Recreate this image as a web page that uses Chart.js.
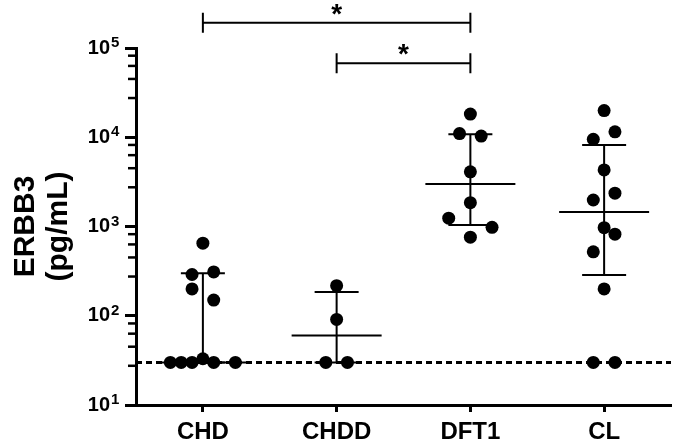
<!DOCTYPE html>
<html>
<head>
<meta charset="utf-8">
<script src="https://cdn.jsdelivr.net/npm/chart.js@4.4.1/dist/chart.umd.min.js"></script>
<style>
  html, body { margin: 0; padding: 0; background: #fff; }
  #wrap { width: 675px; height: 444px; }
</style>
</head>
<body>
<div id="wrap"><canvas id="erbbChart"></canvas></div>
<script>
const groups = ["CHD", "CHDD", "DFT1", "CL"];

// ERBB3 per animal (pg/mL)
const chdValues  = [650, 290, 310, 200, 150, 30, 30, 30, 33, 30, 30];
const chddValues = [217, 91, 30, 30];
const dft1Values = [18200, 11000, 10300, 4100, 1850, 1240, 980, 760];
const clValues   = [19900, 11500, 9500, 4300, 2360, 1980, 970, 820, 520, 200, 30, 30];

// median + interquartile range per group
const medians = [30, 60, 2990, 1450];
const lowerQ  = [30, 30, 1040, 286];
const upperQ  = [300, 185, 10800, 8180];

const detectionLimit = 30;

const yTickValues = [10, 100, 1000, 10000, 100000];
const yTickExponents = ["1", "2", "3", "4", "5"];
const minorSteps = [2.75, 4.5, 6.3, 8.2];

// significance brackets
const compFrom  = [0, 1];
const compTo    = [2, 2];
const compLevel = [192000, 67500];
const compLabel = ["*", "*"];

// jitter column of each dot (layout only)
const chdCols  = [0, -1, 1, -1, 1, -3, -2, -1, 0, 1, 3];
const chddCols = [0, 0, -1, 1];
const dft1Cols = [0, -1, 1, 0, 0, -2, 2, 0];
const clCols   = [0, 1, -1, 0, 1, -1, 0, 1, -1, 0, -1, 1];

const colStep = 0.081;
const fontFamily = '"Liberation Sans", Arial, sans-serif';

const allValues = [chdValues, chddValues, dft1Values, clValues];
const allCols = [chdCols, chddCols, dft1Cols, clCols];

const dots = [];
allValues.forEach((vals, g) => {
  vals.forEach((v, k) => {
    dots.push({ x: g + allCols[g][k] * colStep, y: v });
  });
});

const whiskers = [];
const caps = [];
const medianMarks = [];
groups.forEach((name, g) => {
  whiskers.push({ x: g, y: lowerQ[g] }, { x: g, y: upperQ[g] }, { x: g, y: null });
  caps.push({ x: g, y: lowerQ[g] }, { x: g, y: upperQ[g] });
  medianMarks.push({ x: g, y: medians[g] });
});

const extrasPlugin = {
  id: "extras",
  afterDraw(chart) {
    const ctx = chart.ctx;
    const xs = chart.scales.x;
    const ys = chart.scales.y;
    const left = chart.chartArea.left;
    ctx.save();
    ctx.strokeStyle = "#000";
    ctx.fillStyle = "#000";
    // minor ticks on the log axis
    ctx.lineWidth = 2.5;
    yTickValues.slice(0, -1).forEach(base => {
      minorSteps.forEach(m => {
        const py = ys.getPixelForValue(base * m);
        ctx.beginPath();
        ctx.moveTo(left - 8, py);
        ctx.lineTo(left, py);
        ctx.stroke();
      });
    });
    // exponents of the 10^n labels
    ctx.font = "bold 15px " + fontFamily;
    ctx.textAlign = "left";
    ctx.textBaseline = "alphabetic";
    yTickValues.forEach((v, i) => {
      ctx.fillText(yTickExponents[i], left - 25, ys.getPixelForValue(v) - 1);
    });
    // significance brackets
    ctx.lineWidth = 2;
    ctx.font = "bold 28px " + fontFamily;
    ctx.textAlign = "center";
    compFrom.forEach((a, i) => {
      const x1 = xs.getPixelForValue(a);
      const x2 = xs.getPixelForValue(compTo[i]);
      const py = ys.getPixelForValue(compLevel[i]);
      ctx.beginPath();
      ctx.moveTo(x1, py); ctx.lineTo(x2, py);
      ctx.moveTo(x1, py - 10); ctx.lineTo(x1, py + 10);
      ctx.moveTo(x2, py - 10); ctx.lineTo(x2, py + 10);
      ctx.stroke();
      ctx.fillText(compLabel[i], (x1 + x2) / 2, py);
    });
    ctx.restore();
  }
};

new Chart(document.getElementById("erbbChart"), {
  type: "scatter",
  data: {
    datasets: [
      {
        data: dots,
        order: 0,
        pointRadius: 6.5,
        pointHoverRadius: 6.5,
        backgroundColor: "#000",
        borderColor: "#000",
        borderWidth: 0
      },
      {
        type: "line",
        data: whiskers,
        order: 2,
        borderColor: "#000",
        borderWidth: 2,
        pointRadius: 0,
        spanGaps: false
      },
      {
        data: caps,
        order: 2,
        pointStyle: "line",
        pointRadius: 22,
        pointHoverRadius: 22,
        borderColor: "#000",
        borderWidth: 2
      },
      {
        data: medianMarks,
        order: 2,
        pointStyle: "line",
        pointRadius: 45,
        pointHoverRadius: 45,
        borderColor: "#000",
        borderWidth: 2
      },
      {
        type: "line",
        data: [{ x: -0.5, y: detectionLimit }, { x: 3.5, y: detectionLimit }],
        order: 3,
        borderColor: "#000",
        borderWidth: 3,
        borderDash: [6, 4],
        pointRadius: 0
      }
    ]
  },
  options: {
    responsive: true,
    maintainAspectRatio: false,
    animation: false,
    layout: { autoPadding: false, padding: { top: 48, right: 4, left: 0, bottom: 0 } },
    plugins: {
      legend: { display: false },
      tooltip: { enabled: false }
    },
    scales: {
      x: {
        type: "linear",
        min: -0.5,
        max: 3.5,
        afterBuildTicks: s => { s.ticks = groups.map((g, i) => ({ value: i })); },
        afterFit: s => { s.height = 39; s.paddingLeft = 0; s.paddingRight = 0; },
        ticks: {
          autoSkip: false,
          maxRotation: 0,
          padding: 6,
          color: "#000",
          font: { family: fontFamily, size: 24, weight: "bold" },
          callback: v => groups[v]
        },
        grid: { drawOnChartArea: false, tickLength: 7, tickWidth: 3, tickColor: "#000" },
        border: { width: 3, color: "#000" }
      },
      y: {
        type: "logarithmic",
        min: 10,
        max: 100000,
        afterBuildTicks: s => { s.ticks = yTickValues.map(v => ({ value: v, major: true })); },
        afterFit: s => { s.width = 136; s.paddingTop = 0; s.paddingBottom = 0; },
        ticks: {
          autoSkip: false,
          padding: 15,
          color: "#000",
          font: { family: fontFamily, size: 20, weight: "bold" },
          callback: () => "10"
        },
        grid: { drawOnChartArea: false, tickLength: 11, tickWidth: 3, tickColor: "#000" },
        border: { width: 3, color: "#000" },
        title: {
          display: true,
          text: ["ERBB3", "(pg/mL)"],
          color: "#000",
          font: { family: fontFamily, size: 30, weight: "bold", lineHeight: 1.1 },
          padding: { top: 9, bottom: 0 }
        }
      }
    }
  },
  plugins: [extrasPlugin]
});
</script>
</body>
</html>
